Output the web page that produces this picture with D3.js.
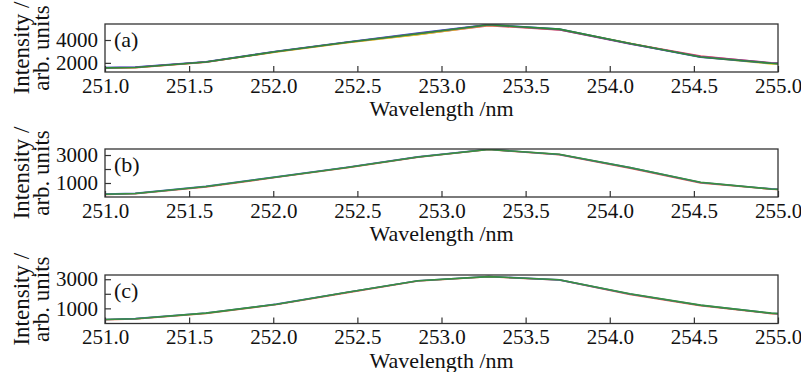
<!DOCTYPE html>
<html><head><meta charset="utf-8">
<script src="https://cdn.jsdelivr.net/npm/d3@7"></script>
<style>
html,body{margin:0;padding:0;background:#fff;}
text{font-family:"Liberation Serif","Times New Roman",serif;fill:#111;}
</style></head>
<body>
<svg id="chart" width="801" height="372"></svg>
<script>
// ---- data ----
const wavelengths = [250.76,251.18,251.60,252.02,252.44,252.86,253.28,253.70,254.12,254.54,254.96,255.38];
const xTicks = [251.0,251.5,252.0,252.5,253.0,253.5,254.0,254.5,255.0];

const aRed    = [1480,1570,2060,2970,3780,4480,5260,4890,3700,2600,1990,1720];
const aYellow = [1510,1590,2070,2960,3760,4470,5300,4930,3710,2520,1900,1650];
const aBlue   = [1530,1640,2100,3010,3830,4600,5350,4960,3680,2500,1960,1690];
const aPurple = [1490,1610,2080,2990,3810,4560,5320,4900,3660,2550,2010,1730];
const aGreen  = [1500,1600,2080,2990,3800,4550,5330,4950,3690,2510,1970,1700];

const bRed    = [110,240,720,1410,2100,2850,3390,3030,2060,1010,560,290];
const bBlue   = [130,260,760,1440,2120,2870,3410,3040,2100,1040,580,310];
const bGreen  = [120,250,750,1430,2110,2860,3400,3050,2110,1050,570,300];

const cRed    = [140,280,650,1260,2080,2880,3170,2950,1960,1180,640,380];
const cBlue   = [155,295,680,1290,2110,2900,3190,2955,1990,1210,665,395];
const cGreen  = [150,290,670,1280,2100,2890,3180,2960,2000,1220,670,400];

const aTicks = [2000,4000], aLabeled = [2000,4000];
const bTicks = [1000,2000,3000], bLabeled = [1000,3000];
const cTicks = [1000,2000,3000], cLabeled = [1000,3000];
const panelLabels = ["(a)","(b)","(c)"];

// ---- layout ----
const left = 105, right = 778;
const panels = [
  {top:24, bottom:72, domain:[1200,5400], ticks:aTicks, labeled:aLabeled,
   series:[[aRed,"#e8485a"],[aYellow,"#d8cc20"],[aBlue,"#3050c8"],[aPurple,"#9040a0"],[aGreen,"#2f8a3a"]]},
  {top:149, bottom:197, domain:[0,3430], ticks:bTicks, labeled:bLabeled,
   series:[[bRed,"#e86040"],[bBlue,"#4060c0"],[bGreen,"#3a9040"]]},
  {top:275, bottom:323.5, domain:[-40,3290], ticks:cTicks, labeled:cLabeled,
   series:[[cRed,"#e86040"],[cBlue,"#4060c0"],[cGreen,"#3a9040"]]}
];

const svg = d3.select("#chart");
const x = d3.scaleLinear().domain([251,255]).range([left,right]);

panels.forEach((p,i)=>{
  const y = d3.scaleLinear().domain(p.domain).range([p.bottom,p.top]);
  const g = svg.append("g");
  const cid = "clip"+i;
  svg.append("defs").append("clipPath").attr("id",cid)
    .append("rect").attr("x",left).attr("y",p.top).attr("width",right-left).attr("height",p.bottom-p.top);

  const line = d3.line().x((d,k)=>x(wavelengths[k])).y(d=>y(d));
  const lg = g.append("g").attr("clip-path",`url(#${cid})`);
  p.series.forEach(([vals,col])=>{
    lg.append("path").datum(vals).attr("d",line)
      .attr("fill","none").attr("stroke",col).attr("stroke-width",1.6).attr("stroke-linejoin","round");
  });

  // x axis (inward ticks)
  const xa = d3.axisBottom(x).tickValues(xTicks).tickSize(-6).tickPadding(12).tickFormat(d3.format(".1f"));
  const xg = g.append("g").attr("transform",`translate(0,${p.bottom})`).call(xa);
  xg.select(".domain").remove();
  xg.selectAll(".tick line").attr("stroke","#333").attr("stroke-width",1.2);
  xg.selectAll(".tick text").attr("font-size",21).attr("font-family","Liberation Serif").attr("fill","#111").attr("dy","0.71em").attr("y",6);

  // y axis (inward ticks)
  const ya = d3.axisLeft(y).tickValues(p.ticks).tickSize(-6).tickPadding(8)
    .tickFormat(d=>p.labeled.includes(d)?d3.format("d")(d):"");
  const yg = g.append("g").attr("transform",`translate(${left},0)`).call(ya);
  yg.select(".domain").remove();
  yg.selectAll(".tick line").attr("stroke","#333").attr("stroke-width",1.2);
  yg.selectAll(".tick text").attr("font-size",21).attr("font-family","Liberation Serif").attr("fill","#111").attr("x",-7);

  // frame
  g.append("rect").attr("x",left).attr("y",p.top).attr("width",right-left).attr("height",p.bottom-p.top)
    .attr("fill","none").attr("stroke","#333").attr("stroke-width",1.3);

  // panel label
  g.append("text").attr("x",114).attr("y",p.top+15).attr("dy","0.35em")
    .attr("font-size",22).text(panelLabels[i]);

  // x label
  g.append("text").attr("x",(left+right)/2).attr("y",p.bottom+44)
    .attr("text-anchor","middle").attr("font-size",22).text("Wavelength /nm");

  // y label
  const cy = (p.top+p.bottom)/2;
  g.append("text").attr("transform",`translate(29,${cy}) rotate(-90)`)
    .attr("text-anchor","middle").attr("font-size",23).text("Intensity /");
  g.append("text").attr("transform",`translate(49,${cy}) rotate(-90)`)
    .attr("text-anchor","middle").attr("font-size",23).text("arb. units");
});
</script>
</body></html>
